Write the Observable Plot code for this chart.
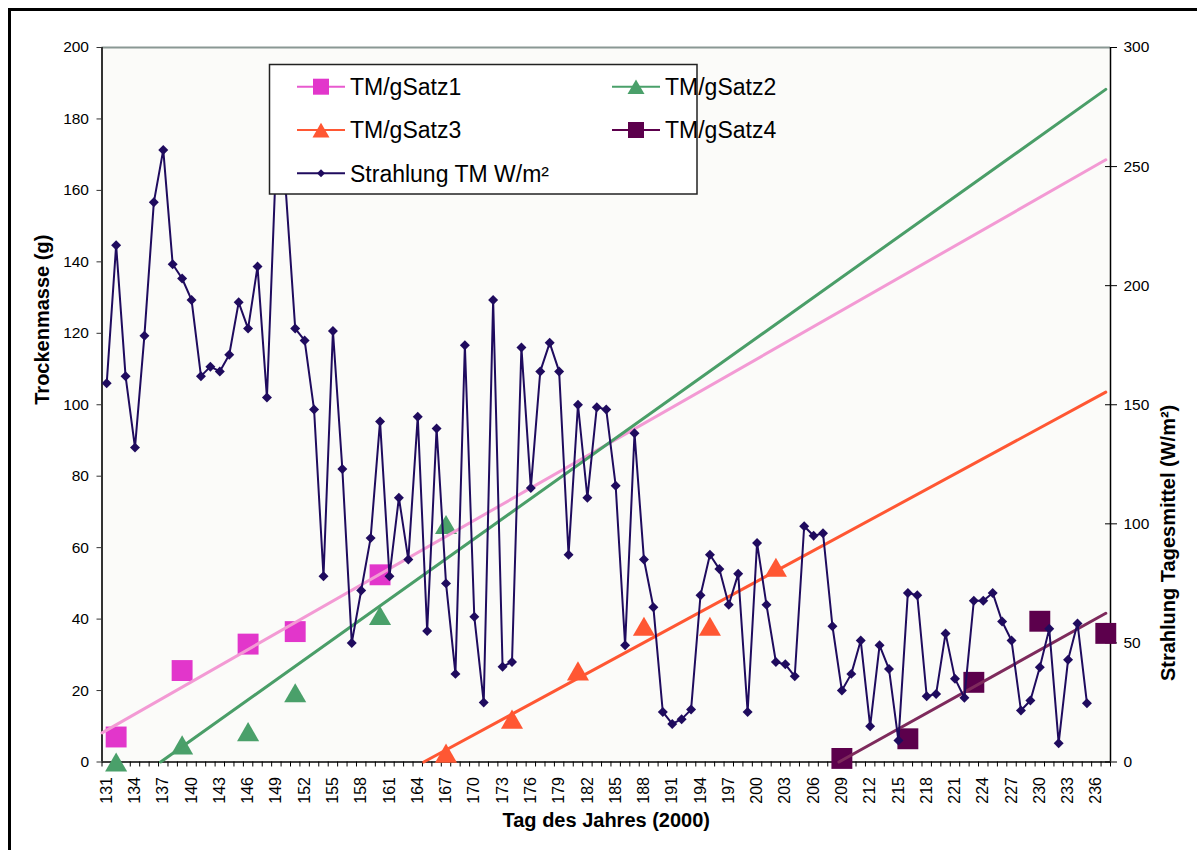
<!DOCTYPE html>
<html><head><meta charset="utf-8">
<script src="https://cdn.jsdelivr.net/npm/d3@7"></script>
<script src="https://cdn.jsdelivr.net/npm/@observablehq/plot@0.6"></script>
<style>
html,body{margin:0;padding:0;background:#fff;overflow:hidden;width:1197px;height:850px;}
#wrap{position:relative;width:1197px;height:850px;font-family:"Liberation Sans",Arial,sans-serif;}
#frame{position:absolute;left:8px;top:8px;width:1200px;height:860px;border:3px solid #000;pointer-events:none;}
</style></head><body><div id="wrap"><div id="frame"></div></div>
<script>
// ---- data ----
const firstCategory = 131;
const lastCategory = 237;
const tickLabelDays = [131,134,137,140,143,146,149,152,155,158,161,164,167,170,173,176,179,182,185,188,191,194,197,200,203,206,209,212,215,218,221,224,227,230,233,236];
const leftTicks = [0,20,40,60,80,100,120,140,160,180,200];
const rightTicks = [0,50,100,150,200,250,300];

// Strahlung TM W/m² (secondary axis), days 131..235
const radiationStart = 131;
const radiation = [159,217,162,132,179,235,257,209,203,194,162,166,164,171,193,182,208,153,256,240,
  182,177,148,78,181,123,50,72,94,143,78,111,85,145,55,140,75,37,175,61,
  25,194,40,42,174,115,164,176,164,87,150,111,149,148,116,49,138,85,65,21,
  16,18,22,70,87,81,66,79,21,92,66,42,41,36,99,95,96,57,30,37,
  51,15,49,39,9,71,70,27.6,28.6,54,35,27,67.7,67.7,71,59,51,21.6,25.8,39.8,
  55.9,7.9,42.9,58.2,24.7];

const satz1Days = [132,139,146,151,160];
const satz1 = [7,25.6,33,36.5,52.4];
const satz2Days = [132,139,146,151,160,167];
const satz2 = [0,4.8,8.5,19.4,41,66.5];
const satz3Days = [167,174,181,188,195,202];
const satz3 = [2.5,12,25.5,38,38,54.5];
const satz4Days = [209,216,223,230,237];
const satz4 = [1,6.5,22.3,39.4,36];

// ---- derived tables ----
const radData = radiation.map((v,i)=>({day: radiationStart+i, v}));
const toTable = (days, vals) => days.map((d,i)=>({day:d, v:vals[i]}));
const s1 = toTable(satz1Days, satz1), s2 = toTable(satz2Days, satz2),
      s3 = toTable(satz3Days, satz3), s4 = toTable(satz4Days, satz4);
const xMin = firstCategory - 0.5, xMax = lastCategory + 0.5;
const boundaries = d3.range(firstCategory - 0.5, lastCategory + 1, 1);

function trend(tbl){
  const mx = d3.mean(tbl, d=>d.day), my = d3.mean(tbl, d=>d.v);
  const sxy = d3.sum(tbl, d=>(d.day-mx)*(d.v-my));
  const sxx = d3.sum(tbl, d=>(d.day-mx)**2);
  const m = sxy/sxx, b = my - m*mx;
  const x0 = Math.max(xMin, -b/m), x1 = lastCategory;
  return [{day:x0, v:m*x0+b},{day:x1, v:m*x1+b}];
}

const C = {
  s1:"#E236CB", s1t:"#F39AD4",
  s2:"#4AA06A", s2t:"#4A9E68",
  s3:"#FF5733", s3t:"#FF5733",
  s4:"#5C004C", s4t:"#7E2A5C",
  rad:"#1F0B5E"
};
const font = "Liberation Sans, Arial, sans-serif";
const sq = 11.8, tri = 8.2, dia = 4.5;

const chart = Plot.plot({
  width: 1197, height: 850,
  marginTop: 47, marginBottom: 88.5, marginLeft: 101.5, marginRight: 87,
  x: {type:"linear", domain:[xMin, xMax], axis:null},
  y: {domain:[0,200], axis:null},
  style: {fontFamily: font, background:"transparent", color:"#000", overflow:"visible"},
  marks: [
    Plot.frame({fill:"#fbfbf9", stroke:null}),
    Plot.axisY({anchor:"left", ticks:leftTicks, tickSize:5, tickPadding:8, fontSize:15.5, label:null, stroke:"#333"}),
    Plot.axisY({anchor:"right", ticks:rightTicks.map(r=>r*200/300), tickFormat: v=>String(Math.round(v*300/200)),
      tickSize:12, tickPadding:7, dx:-6, fontSize:15.5, label:null, stroke:"#000"}),
    Plot.axisX({anchor:"bottom", ticks:boundaries, tickSize:5, tickFormat:()=>"", label:null, stroke:"#000"}),
    Plot.text(tickLabelDays, {x:d=>d, frameAnchor:"bottom", text:d=>String(d), rotate:-90, textAnchor:"end",
      lineAnchor:"middle", dy:15, fontSize:16, fill:"#000"}),
    Plot.ruleY([0], {stroke:"#000", strokeWidth:1.5}),
    Plot.ruleY([200], {stroke:"#8a9894", strokeWidth:2}),
    Plot.ruleX([xMin], {stroke:"#333", strokeWidth:2}),
    Plot.ruleX([xMax], {stroke:"#000", strokeWidth:1.5}),
    // TM/g series markers
    Plot.dot(s1, {x:"day", y:"v", symbol:"square", r:sq, fill:C.s1}),
    Plot.dot(s2, {x:"day", y:"v", symbol:"triangle", r:tri, fill:C.s2, dy:3.2}),
    Plot.dot(s3, {x:"day", y:"v", symbol:"triangle", r:tri, fill:C.s3, dy:3.2}),
    Plot.dot(s4, {x:"day", y:"v", symbol:"square", r:sq, fill:C.s4}),
    // linear trendlines
    Plot.line(trend(s1), {x:"day", y:"v", stroke:C.s1t, strokeWidth:3}),
    Plot.line(trend(s2), {x:"day", y:"v", stroke:C.s2t, strokeWidth:3}),
    Plot.line(trend(s3), {x:"day", y:"v", stroke:C.s3t, strokeWidth:3}),
    Plot.line(trend(s4), {x:"day", y:"v", stroke:C.s4t, strokeWidth:3}),
    // radiation on secondary axis
    Plot.line(radData, {x:"day", y:d=>d.v*200/300, stroke:C.rad, strokeWidth:2}),
    Plot.dot(radData, {x:"day", y:d=>d.v*200/300, symbol:"diamond2", r:dia, fill:C.rad}),
    // titles
    Plot.text(["Trockenmasse (g)"], {frameAnchor:"left", text:d=>d, rotate:-90, dx:-59.5, fontSize:20, fontWeight:"bold", fill:"#000"}),
    Plot.text(["Strahlung Tagesmittel (W/m²)"], {frameAnchor:"right", text:d=>d, rotate:-90, dx:58, fontSize:20, fontWeight:"bold", fill:"#000"}),
    Plot.text(["Tag des Jahres (2000)"], {frameAnchor:"bottom", text:d=>d, dy:65, fontSize:20, fontWeight:"bold", fill:"#000"})
  ]
});
chart.style.position = "absolute";
chart.style.left = "0px";
chart.style.top = "0px";
const wrap = document.getElementById("wrap");
wrap.insertBefore(chart, wrap.firstChild);

// ---- legend ----
const legendItems = [
  {label:"TM/gSatz1", color:C.s1, line:"#E85ACF", symbol:d3.symbolSquare, size:256, col:0, row:0},
  {label:"TM/gSatz2", color:C.s2, line:C.s2, symbol:d3.symbolTriangle, size:125, col:1, row:0},
  {label:"TM/gSatz3", color:C.s3, line:C.s3, symbol:d3.symbolTriangle, size:125, col:0, row:1},
  {label:"TM/gSatz4", color:C.s4, line:C.s4, symbol:d3.symbolSquare, size:256, col:1, row:1},
  {label:"Strahlung TM W/m²", color:C.rad, line:C.rad, symbol:d3.symbolDiamond2, size:41, col:0, row:2}
];
const leg = d3.select("#wrap").append("svg")
  .style("position","absolute").style("left","268px").style("top","63px").style("overflow","visible")
  .attr("width",540).attr("height",133);
leg.append("rect").attr("x",1.5).attr("y",1.5).attr("width",427.5).attr("height",129.5)
  .attr("fill","#fff").attr("stroke","#222").attr("stroke-width",1.5);
const colX = [29, 344], rowY = [23.7, 67, 110.3];
legendItems.forEach(it=>{
  const x0 = colX[it.col], y = rowY[it.row];
  const g = leg.append("g");
  g.append("line").attr("x1",x0).attr("x2",x0+48).attr("y1",y).attr("y2",y)
    .attr("stroke",it.line).attr("stroke-width",2);
  const off = it.symbol === d3.symbolTriangle ? 2.5 : 0;
  g.append("path").attr("d", d3.symbol(it.symbol, it.size)())
    .attr("transform",`translate(${x0+24},${y+off})`).attr("fill",it.color);
  g.append("text").attr("x",x0+53).attr("y",y).attr("dy","0.36em")
    .attr("font-family",font).attr("font-size",23).attr("fill","#000").text(it.label);
});
</script></body></html>
